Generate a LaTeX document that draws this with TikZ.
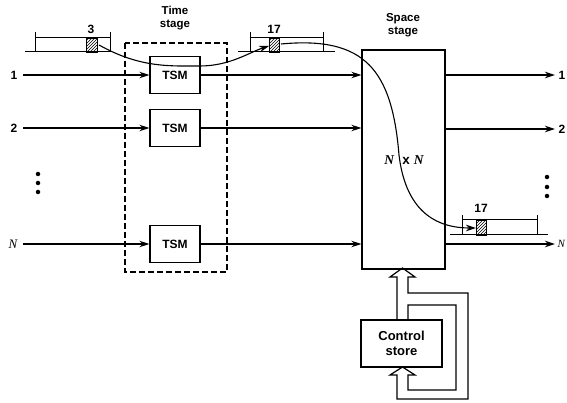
\documentclass[tikz,border=0pt]{standalone}
\usepackage{fontspec}
\setmainfont{Liberation Sans}
\newfontfamily\seriffam{Liberation Serif}
\usetikzlibrary{arrows.meta,patterns}
\begin{document}
\begin{tikzpicture}[x=1pt,y=-1pt,line width=1.3pt,
  arr/.style={-{Stealth[length=10pt,width=6.5pt]}},
  tsm/.style={draw,minimum width=50pt,minimum height=37pt,inner sep=0pt,font=\fontsize{12}{14}\selectfont\bfseries},
  lab/.style={inner sep=0pt,font=\fontsize{12}{14}\selectfont\bfseries},
  ttl/.style={inner sep=0pt,align=center,font=\fontsize{11.5}{13.5}\selectfont\bfseries},
  num/.style={inner sep=0pt,font=\fontsize{12}{14}\selectfont\bfseries},
  hatch/.style={draw,line width=0.9pt,pattern=north east lines},
  dot/.style={circle,fill,inner sep=0pt,minimum size=4.5pt}]
\useasboundingbox (0,0) rectangle (567,403);

% titles
\node[ttl] (tt) at (175,18) {Time\\[-1pt]stage};
\node[ttl] (st) at (403,25) {Space\\[-1pt]stage};

% time stage
\draw[line width=1.1pt,dash pattern=on 6pt off 3pt] (125,43) rectangle (227,272);
\node[tsm] (t1) at (175,75) {TSM};
\node[tsm] (t2) at (175,128) {TSM};
\node[tsm] (tn) at (175,244) {TSM};

% space stage
\node[draw,minimum width=83pt,minimum height=219pt,inner sep=0pt] (sp) at (403.5,159.5) {};
\node[inner sep=0pt,font=\fontsize{13.5}{15}\selectfont] (nxn) at (404,160) {{\seriffam\bfseries\itshape N}\hspace{8pt}\textbf{x}\hspace{4pt}{\seriffam\bfseries\itshape N}};

% control store
\node[draw,minimum width=81pt,minimum height=47pt,inner sep=0pt,align=center,
  font=\fontsize{13}{14.5}\selectfont\bfseries] (cs) at (401.5,343.5) {Control\\store};

% inputs
\coordinate (i1) at (23,75);
\coordinate (i2) at (23,128);
\coordinate (in) at (23,244);
\node[lab,anchor=east] (l1) at (18,75) {1};
\node[lab,anchor=east] (l2) at (18,128) {2};
\node[inner sep=0pt,anchor=east,font=\fontsize{13}{15}\selectfont\seriffam\itshape] (ln) at (18,244) {N};
\draw[arr] (i1) -- (t1.west);
\draw[arr] (i2) -- (t2.west);
\draw[arr] (in) -- (tn.west);

% time -> space
\draw[arr] (t1.east) -- (t1.east -| sp.west);
\draw[arr] (t2.east) -- (t2.east -| sp.west);
\draw[arr] (tn.east) -- (tn.east -| sp.west);

% outputs
\coordinate (o1) at (555,75);
\coordinate (o2) at (555,129);
\coordinate (on) at (555,244);
\draw[arr] (o1 -| sp.east) -- (o1);
\draw[arr] (o2 -| sp.east) -- (o2);
\draw[arr] (on -| sp.east) -- (on);
\node[lab,anchor=west] (r1) at (558,75) {1};
\node[lab,anchor=west] (r2) at (558,129) {2};
\node[inner sep=0pt,anchor=west,font=\fontsize{11}{13}\selectfont\seriffam\itshape] (rn) at (557,244) {N};

% dots
\node[dot] (d1) at (38,174) {};
\node[dot] (d2) at (38,183) {};
\node[dot] (d3) at (38,192) {};
\node[dot] (e1) at (547,177) {};
\node[dot] (e2) at (547,187) {};
\node[dot] (e3) at (547,196) {};

% frame with slot 3
\draw[line width=1pt] (35,32) -- (35,52) (110,32) -- (110,52) (35,38) -- (110,38) (25,52) -- (112,52);
\draw[hatch] (86,38) rectangle (97,52);
\node[num] (n3) at (91,29) {3};

% frame with slot 17 (top)
\draw[line width=1pt] (250,32) -- (250,52) (323,32) -- (323,52) (250,38) -- (323,38) (238,52) -- (335,52);
\draw[hatch] (269,38) rectangle (279,52);
\node[num] (n17a) at (274,29) {17};

% frame with slot 17 (output N)
\draw[line width=1pt] (462,215) -- (462,235) (537,215) -- (537,235) (462,220) -- (537,220) (450,235) -- (548,235);
\draw[hatch] (476,220) rectangle (486,235);
\node[num] (n17b) at (481,208) {17};

% slot curves
\coordinate (ca) at (99,45);
\coordinate (cb) at (269,46);
\coordinate (cc) at (281,44);
\coordinate (cd) at (476,228);
\draw[arr,line width=1.1pt] (ca) .. controls (140,68) and (170,66) .. (200,66)
   .. controls (230,66) and (250,52) .. (cb);
\draw[arr,line width=1.1pt] (cc) .. controls (365,36) and (392,70) .. (399,155)
   .. controls (405,205) and (430,228) .. (cd);

% hollow arrows between control store and space stage
\draw[line width=1.2pt,line join=miter]
  (397,320) -- (397,277) -- (390,277) -- (402.5,268) -- (415,277) -- (408,277)
  -- (408,293) -- (468,293) -- (468,399) -- (397,399) -- (397,375)
  -- (390,375) -- (402.5,367) -- (415,375) -- (408,375) -- (408,390)
  -- (456,390) -- (456,305) -- (408,305) -- (408,320);
\end{tikzpicture}
\end{document}
